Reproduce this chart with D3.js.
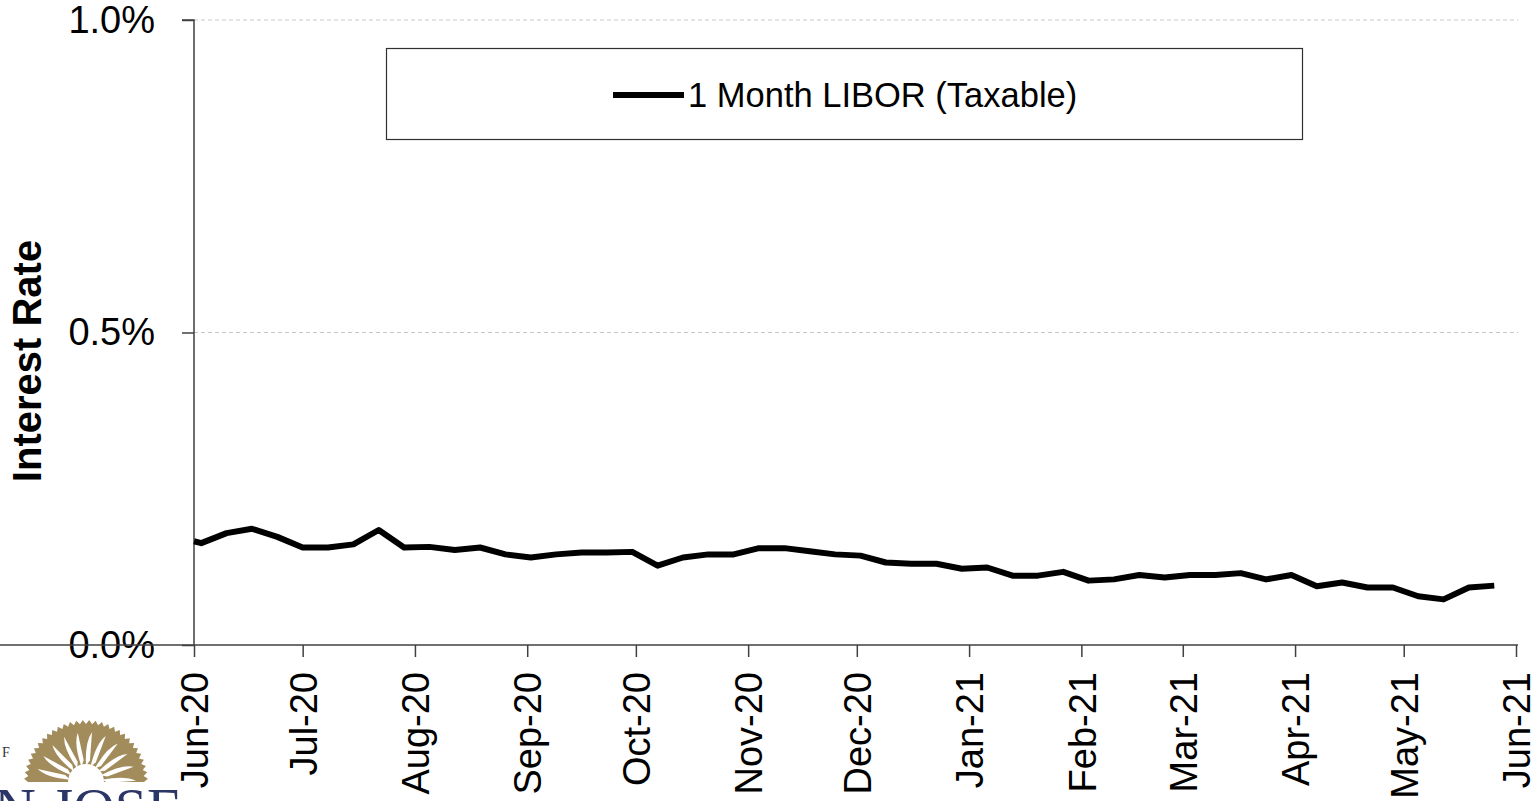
<!DOCTYPE html>
<html>
<head>
<meta charset="utf-8">
<script src="https://cdn.jsdelivr.net/npm/d3@7"></script>
<style>
  body { margin: 0; background: #fff; }
  svg { display: block; font-family: Arial, "Liberation Sans", sans-serif; }
  .tick text { fill: #000; }
  .grid line { stroke: #c8c8c8; stroke-dasharray: 4,3; }
</style>
</head>
<body>
<svg width="1536" height="801"></svg>
<script>
// weekly 1 month LIBOR readings (percent)
var dates = ["2020-06-01","2020-06-03","2020-06-10","2020-06-17","2020-06-24",
  "2020-07-01","2020-07-08","2020-07-15","2020-07-22","2020-07-29",
  "2020-08-05","2020-08-12","2020-08-19","2020-08-26",
  "2020-09-02","2020-09-09","2020-09-16","2020-09-23","2020-09-30",
  "2020-10-07","2020-10-14","2020-10-21","2020-10-28",
  "2020-11-04","2020-11-11","2020-11-18","2020-11-25",
  "2020-12-02","2020-12-09","2020-12-16","2020-12-23","2020-12-30",
  "2021-01-06","2021-01-13","2021-01-20","2021-01-27",
  "2021-02-03","2021-02-10","2021-02-17","2021-02-24",
  "2021-03-03","2021-03-10","2021-03-17","2021-03-24","2021-03-31",
  "2021-04-07","2021-04-14","2021-04-21","2021-04-28",
  "2021-05-05","2021-05-12","2021-05-19","2021-05-26"];
var libor = [0.166, 0.163,0.179,0.186,0.173,
  0.156,0.156,0.161,0.184,0.156,
  0.157,0.152,0.156,0.145,
  0.140,0.145,0.148,0.148,0.149,
  0.127,0.140,0.145,0.145,
  0.155,0.155,0.150,0.145,
  0.143,0.132,0.130,0.130,0.122,
  0.124,0.111,0.111,0.117,
  0.103,0.105,0.112,0.108,
  0.112,0.112,0.115,0.105,0.112,
  0.094,0.100,0.092,0.092,
  0.078,0.073,0.092,0.095];
var yTicks = [0, 0.5, 1.0];
var seriesName = "1 Month LIBOR (Taxable)";

var parse = d3.timeParse("%Y-%m-%d");
var data = dates.map(function(d, i) { return { date: parse(d), value: libor[i] }; });

var svg = d3.select("svg");

var x = d3.scaleTime()
    .domain([parse("2020-06-01"), parse("2021-06-01")])
    .range([194, 1516]);
var y = d3.scaleLinear().domain([0, 1]).range([645, 20]);

// gridlines
svg.append("g").attr("class", "grid")
  .selectAll("line").data(yTicks.slice(1)).enter().append("line")
    .attr("x1", 194).attr("x2", 1518)
    .attr("y1", function(d) { return y(d); })
    .attr("y2", function(d) { return y(d); });

// y axis
var yAxis = svg.append("g")
    .attr("transform", "translate(194,0)")
    .call(d3.axisLeft(y).tickValues(yTicks).tickSize(12).tickPadding(27)
      .tickFormat(function(d) { return d.toFixed(1) + "%"; }));
yAxis.selectAll("text").style("font-size", "38px");
yAxis.selectAll("line, path").attr("stroke", "#404040").attr("stroke-width", 1.5);
yAxis.select(".domain").attr("d", "M0,645V20H-12");

// x axis
var xAxis = svg.append("g")
    .attr("transform", "translate(0,645)")
    .call(d3.axisBottom(x).ticks(d3.timeMonth.every(1)).tickSize(12)
      .tickFormat(d3.timeFormat("%b-%y")));
xAxis.selectAll("line, path").attr("stroke", "#404040").attr("stroke-width", 1.5);
xAxis.select(".domain").attr("d", "M-12,0H1518");
xAxis.selectAll("text")
    .style("font-size", "38px")
    .attr("text-anchor", "end")
    .attr("transform", "rotate(-90)")
    .attr("x", -27).attr("y", 0).attr("dy", "0.36em");

// y title
svg.append("text")
    .attr("transform", "translate(41,361) rotate(-90)")
    .attr("text-anchor", "middle")
    .style("font-size", "40px").style("font-weight", "bold")
    .text("Interest Rate");

// series line
var line = d3.line()
    .x(function(d) { return x(d.date); })
    .y(function(d) { return y(d.value); });
svg.append("path").datum(data)
    .attr("fill", "none").attr("stroke", "#000")
    .attr("stroke-width", 6).attr("stroke-linejoin", "round")
    .attr("d", line);

// legend
var lg = svg.append("g");
lg.append("rect").attr("x", 386.5).attr("y", 48.5).attr("width", 916).attr("height", 91)
    .attr("fill", "#fff").attr("stroke", "#303030").attr("stroke-width", 1.2);
lg.append("line").attr("x1", 613).attr("x2", 684).attr("y1", 95).attr("y2", 95)
    .attr("stroke", "#000").attr("stroke-width", 6);
lg.append("text").attr("x", 688).attr("y", 95).attr("dy", "0.36em")
    .style("font-size", "34.5px").text(seriesName);

// partial logo, bottom left
var logo = svg.append("g");
var cx = 86, cy = 782, r = 62;
var teeth = d3.range(0, 61).map(function(i) {
  var a = Math.PI + Math.PI * i / 60, rr = (i % 2 ? r : r - 4);
  return [cx + rr * Math.cos(a), cy + rr * Math.sin(a)];
});
logo.append("path").attr("d", "M" + teeth.join("L") + "Z").attr("fill", "#a38c5c");
d3.range(0, 11).forEach(function(i) {
  var a = Math.PI + Math.PI * (i + 0.5) / 11;
  var a2 = a + 0.12;
  logo.append("path")
    .attr("d", "M" + (cx + 16 * Math.cos(a)) + "," + (cy + 16 * Math.sin(a)) +
      "Q" + (cx + 40 * Math.cos(a2 - 0.15)) + "," + (cy + 40 * Math.sin(a2 - 0.15)) +
      " " + (cx + 50 * Math.cos(a2)) + "," + (cy + 50 * Math.sin(a2)) +
      "L" + (cx + 22 * Math.cos(a + 0.18)) + "," + (cy + 22 * Math.sin(a + 0.18)) + "Z")
    .attr("fill", "#fff");
});
logo.append("circle").attr("cx", cx).attr("cy", cy).attr("r", 18).attr("fill", "#fff");
logo.append("text").attr("x", 2).attr("y", 757).style("font-family", "Liberation Serif, serif")
    .style("font-size", "14px").attr("fill", "#333").text("F");
logo.append("text").attr("x", -6).attr("y", 828).style("font-family", "Liberation Serif, serif")
    .style("font-size", "58px").attr("fill", "#2b3566").text("N JOSE");
</script>
</body>
</html>
